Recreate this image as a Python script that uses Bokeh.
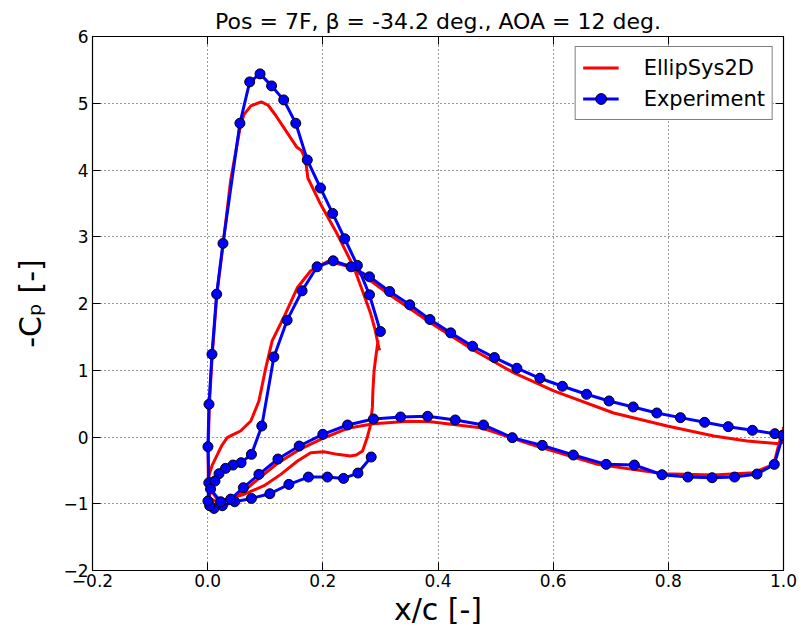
from bokeh.plotting import figure
from bokeh.models import Range1d, FixedTicker, LinearAxis, Legend, LegendItem
from bokeh.embed import file_html
from bokeh.resources import INLINE

# ---------------- data ----------------
x_ticks = [-0.2, 0.0, 0.2, 0.4, 0.6, 0.8, 1.0]
x_tick_labels = ["\u22120.2", "0.0", "0.2", "0.4", "0.6", "0.8", "1.0"]
y_ticks = [-2, -1, 0, 1, 2, 3, 4, 5, 6]
y_tick_labels = ["\u22122", "\u22121", "0", "1", "2", "3", "4", "5", "6"]

# Experiment, front element (pressure TE -> LE -> suction TE)
exp_slat_x = [0.284, 0.261, 0.236, 0.208, 0.175, 0.141, 0.108, 0.076, 0.047, 0.0255, 0.011,
              0.0035, 0.0005, 0.002, 0.0005, 0.0023, 0.0075, 0.0156, 0.0266, 0.056, 0.073,
              0.091, 0.111, 0.132, 0.153, 0.173, 0.196, 0.217, 0.238, 0.260, 0.281, 0.300]
exp_slat_y = [-0.30, -0.54, -0.62, -0.60, -0.60, -0.71, -0.85, -0.92, -0.97, -1.03, -1.07,
              -1.03, -0.96, -0.685, -0.145, 0.49, 1.24, 2.14, 2.90, 4.70, 5.32,
              5.44, 5.26, 5.05, 4.70, 4.15, 3.73, 3.35, 2.97, 2.57, 2.13, 1.58]

# Experiment, main element (suction TE -> LE -> pressure TE)
exp_main_x = [0.999, 0.985, 0.946, 0.904, 0.863, 0.821, 0.780, 0.739, 0.697, 0.658, 0.616,
              0.577, 0.537, 0.498, 0.460, 0.422, 0.386, 0.351, 0.316, 0.281, 0.249, 0.218,
              0.190, 0.164, 0.138, 0.115, 0.094, 0.076, 0.058, 0.044, 0.031, 0.0197, 0.0127,
              0.005, 0.0226, 0.040, 0.062, 0.089, 0.122, 0.159, 0.200, 0.243, 0.288, 0.335,
              0.382, 0.430, 0.479, 0.529, 0.581, 0.635, 0.692, 0.741, 0.789, 0.834, 0.876,
              0.915, 0.954, 0.984, 0.999]
exp_main_y = [0.025, 0.05, 0.10, 0.155, 0.22, 0.29, 0.36, 0.45, 0.54, 0.64, 0.76,
              0.88, 1.03, 1.19, 1.36, 1.56, 1.76, 1.98, 2.18, 2.40, 2.55, 2.64,
              2.55, 2.19, 1.75, 1.20, 0.165, -0.26, -0.385, -0.42, -0.47, -0.55, -0.66,
              -0.78, -0.97, -0.93, -0.76, -0.56, -0.33, -0.135, 0.04, 0.18, 0.27, 0.30,
              0.31, 0.255, 0.18, -0.01, -0.125, -0.27, -0.41, -0.42, -0.565, -0.60, -0.61,
              -0.60, -0.555, -0.41, 0.025]

# EllipSys2D, front element (pressure TE -> LE -> suction TE)
cfd_slat_x = [0.296, 0.292, 0.289, 0.287, 0.286, 0.282, 0.277, 0.269, 0.258, 0.248, 0.225,
              0.202, 0.179, 0.156, 0.127, 0.098, 0.063, 0.037, 0.015, 0.004, 0.001, 0.001,
              0.003, 0.008, 0.016, 0.027, 0.040, 0.056, 0.063, 0.075, 0.093, 0.105, 0.118,
              0.138, 0.155, 0.163, 0.170, 0.174, 0.196, 0.225, 0.254, 0.271, 0.283, 0.291,
              0.297, 0.299]
cfd_slat_y = [1.45, 1.20, 0.99, 0.70, 0.44, 0.15, -0.01, -0.21, -0.27, -0.285, -0.26,
              -0.22, -0.235, -0.36, -0.56, -0.73, -0.86, -0.93, -0.97, -0.92, -0.70, -0.15,
              0.50, 1.24, 2.14, 2.90, 3.85, 4.62, 4.83, 4.96, 5.02, 4.97, 4.82,
              4.56, 4.34, 4.29, 4.15, 3.88, 3.49, 3.04, 2.54, 2.14, 1.85, 1.60,
              1.34, 1.30]

# EllipSys2D, main element (suction TE -> LE -> pressure TE)
cfd_main_x = [1.0, 0.999, 0.992, 0.937, 0.879, 0.798, 0.705, 0.601, 0.532, 0.460, 0.387,
              0.316, 0.280, 0.243, 0.208, 0.179, 0.156, 0.132, 0.112, 0.101, 0.089, 0.075,
              0.057, 0.045, 0.034, 0.025, 0.017, 0.008, 0.002, 0.006, 0.018, 0.037, 0.062,
              0.089, 0.122, 0.159, 0.200, 0.243, 0.288, 0.350, 0.387, 0.474, 0.561, 0.677,
              0.792, 0.879, 0.948, 0.983, 0.995, 1.0]
cfd_main_y = [0.15, -0.08, -0.10, -0.06, 0.015, 0.165, 0.36, 0.69, 0.96, 1.31, 1.71,
              2.13, 2.36, 2.56, 2.63, 2.49, 2.24, 1.79, 1.44, 1.04, 0.54, 0.24,
              0.09, 0.04, -0.01, -0.12, -0.26, -0.42, -0.58, -0.80, -0.95, -0.93, -0.82,
              -0.62, -0.39, -0.19, -0.02, 0.13, 0.20, 0.235, 0.23, 0.14, -0.11, -0.41,
              -0.55, -0.57, -0.535, -0.41, -0.01, 0.12]

# ---------------- figure ----------------
FONT = "DejaVu Sans"
p = figure(width=801, height=629, x_range=Range1d(-0.2, 1.0), y_range=Range1d(-2, 6),
           output_backend="svg", toolbar_location=None,
           min_border_left=92, min_border_right=18, min_border_top=36, min_border_bottom=59,
           title="Pos = 7F, \u03b2 = -34.2 deg., AOA = 12 deg.")
p.title.text_font = FONT
p.title.text_font_size = "22px"
p.title.text_font_style = "normal"
p.title.text_color = "black"
p.title.align = "center"
p.title.standoff = 5

p.outline_line_color = "black"
p.outline_line_width = 1.2
p.background_fill_color = "white"
p.border_fill_color = "white"

for ax in (p.xaxis[0], p.yaxis[0]):
    ax.major_tick_in = 8
    ax.major_tick_out = 0
    ax.minor_tick_in = 0
    ax.minor_tick_out = 0
    ax.axis_line_color = "black"
    ax.major_tick_line_color = "black"
    ax.major_label_text_font = FONT
    ax.major_label_text_font_size = "17px"
    ax.major_label_text_color = "black"
    ax.axis_label_text_font = FONT
    ax.axis_label_text_font_size = "30px"
    ax.axis_label_text_font_style = "normal"
    ax.axis_label_text_color = "black"

p.xaxis.ticker = FixedTicker(ticks=x_ticks)
p.xaxis.major_label_overrides = dict(zip(x_ticks, x_tick_labels))
p.xaxis.axis_label = "x/c [-]"
p.xaxis.major_label_standoff = 3
p.xaxis.axis_label_standoff = 2

p.yaxis.ticker = FixedTicker(ticks=y_ticks)
p.yaxis.major_label_overrides = dict(zip(y_ticks, y_tick_labels))
p.yaxis.axis_label = "-C\u209a [-]"
p.yaxis.major_label_standoff = 4
p.yaxis.axis_label_standoff = 12

# inward ticks on top and right (no labels)
top = LinearAxis(ticker=FixedTicker(ticks=x_ticks), major_label_text_font_size="1px",
                 major_label_text_color=None,
                 major_tick_in=8, major_tick_out=0, minor_tick_in=0, minor_tick_out=0,
                 major_label_standoff=0, axis_line_color="black")
right = LinearAxis(ticker=FixedTicker(ticks=y_ticks), major_label_text_font_size="1px",
                   major_label_text_color=None,
                   major_tick_in=8, major_tick_out=0, minor_tick_in=0, minor_tick_out=0,
                   major_label_standoff=0, axis_line_color="black")
p.add_layout(top, "above")
p.add_layout(right, "right")

p.xgrid.ticker = FixedTicker(ticks=x_ticks)
p.ygrid.ticker = FixedTicker(ticks=y_ticks)
for g in (p.xgrid[0], p.ygrid[0]):
    g.grid_line_color = "black"
    g.grid_line_dash = "1 3"
    g.grid_line_width = 1
    g.grid_line_alpha = 0.8

RED = "#ff0000"
BLUE = "#0000ff"
r_c1 = p.line(cfd_slat_x, cfd_slat_y, line_color=RED, line_width=3, line_join="round")
r_c2 = p.line(cfd_main_x, cfd_main_y, line_color=RED, line_width=3, line_join="round")
r_e1 = p.line(exp_slat_x, exp_slat_y, line_color=BLUE, line_width=3, line_join="round")
r_e2 = p.line(exp_main_x, exp_main_y, line_color=BLUE, line_width=3, line_join="round")
r_m1 = p.scatter(exp_slat_x, exp_slat_y, size=10, fill_color=BLUE, line_color="black", line_width=1)
r_m2 = p.scatter(exp_main_x, exp_main_y, size=10, fill_color=BLUE, line_color="black", line_width=1)

legend = Legend(items=[LegendItem(label="EllipSys2D", renderers=[r_c1]),
                       LegendItem(label="Experiment", renderers=[r_e1, r_m1])],
                location="top_right")
legend.margin = 10
legend.padding = 7
legend.spacing = 4
legend.glyph_width = 36
legend.glyph_height = 27
legend.label_height = 27
legend.label_standoff = 25
legend.label_text_font = FONT
legend.label_text_font_size = "21px"
legend.label_text_color = "black"
legend.border_line_color = "black"
legend.border_line_width = 1
legend.background_fill_alpha = 1
p.add_layout(legend)

open("out.html", "w").write(file_html(p, INLINE))
